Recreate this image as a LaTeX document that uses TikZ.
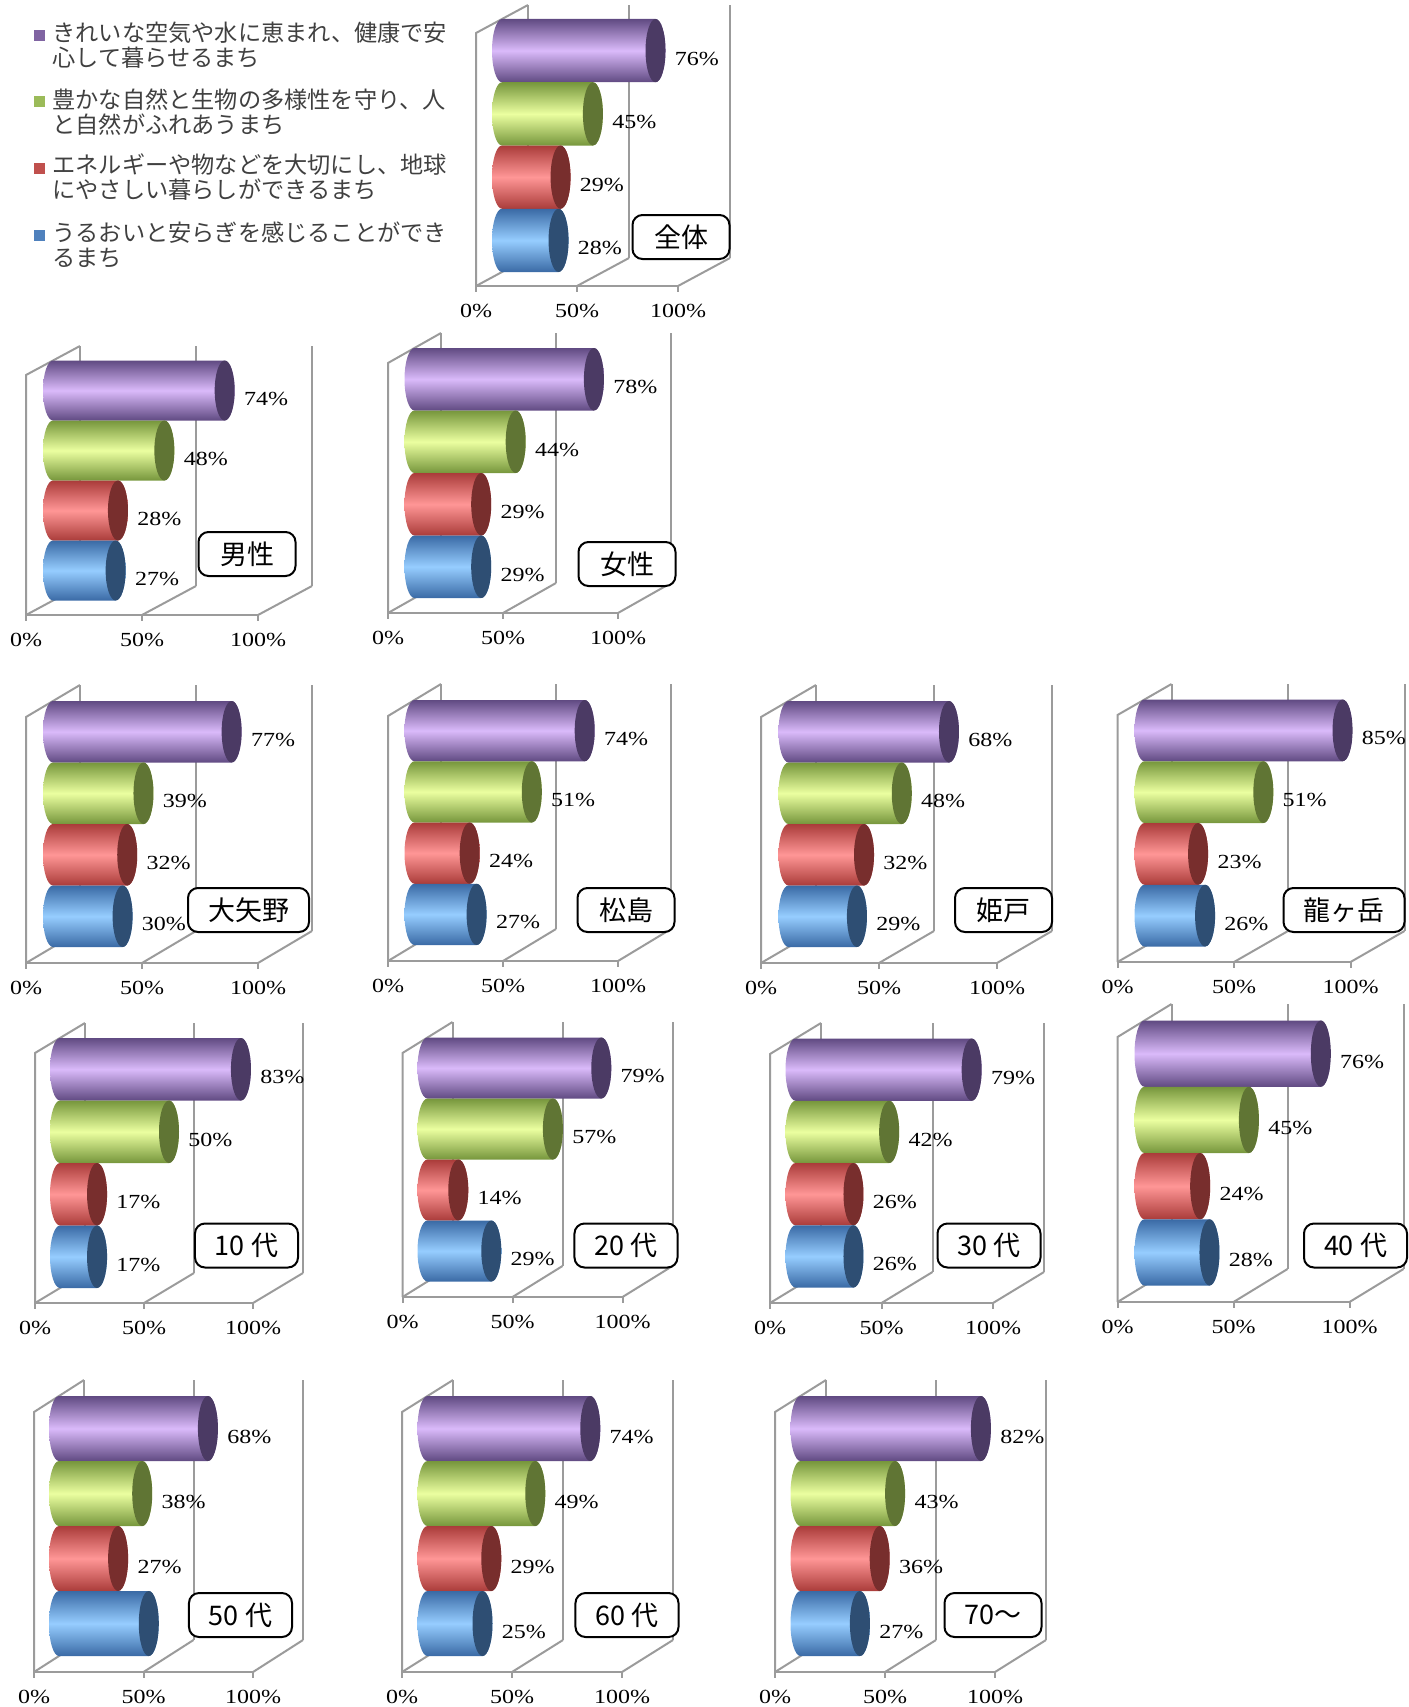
\documentclass[tikz,border=0pt]{standalone}
\usepackage{fontspec}
\newfontfamily\gothique{Noto Sans CJK JP}
\newfontfamily\chiffres[FakeStretch=1.2]{Liberation Serif}
\definecolor{grisgrille}{RGB}{155,155,155}
\definecolor{violetF}{RGB}{96,74,130}
\definecolor{violetC}{RGB}{218,186,250}
\definecolor{violetB}{RGB}{75,58,100}
\definecolor{vertF}{RGB}{118,150,60}
\definecolor{vertC}{RGB}{235,255,160}
\definecolor{vertB}{RGB}{96,117,52}
\definecolor{rougeF}{RGB}{170,60,58}
\definecolor{rougeC}{RGB}{255,150,150}
\definecolor{rougeB}{RGB}{120,46,45}
\definecolor{bleuF}{RGB}{58,106,165}
\definecolor{bleuC}{RGB}{150,205,255}
\definecolor{bleuB}{RGB}{46,78,115}
\definecolor{violetL}{RGB}{128,100,162}
\definecolor{vertL}{RGB}{155,187,89}
\definecolor{rougeL}{RGB}{192,80,77}
\definecolor{bleuL}{RGB}{79,129,189}

\begin{document}
\begin{tikzpicture}[x=0.5pt,y=-0.5pt]
    % Styles
    \tikzstyle{grille}=[draw=grisgrille,line width=1pt]
    \tikzstyle{barre1}=[top color=violetF,bottom color=violetF,middle color=violetC]
    \tikzstyle{barre2}=[top color=vertF,bottom color=vertF,middle color=vertC]
    \tikzstyle{barre3}=[top color=rougeF,bottom color=rougeF,middle color=rougeC]
    \tikzstyle{barre4}=[top color=bleuF,bottom color=bleuF,middle color=bleuC]
    \tikzstyle{chapeau1}=[fill=violetB]
    \tikzstyle{chapeau2}=[fill=vertB]
    \tikzstyle{chapeau3}=[fill=rougeB]
    \tikzstyle{chapeau4}=[fill=bleuB]
    \tikzstyle{pourcent}=[font=\chiffres\fontsize{10}{10}\selectfont,inner sep=0pt]
    \tikzstyle{cadre}=[draw=black,line width=1pt,rounded corners=5pt,fill=white,
      font=\gothique\fontsize{13.5}{13.5}\selectfont,minimum width=48.5pt,minimum height=22pt,inner xsep=10pt]
    \tikzstyle{legende}=[font=\gothique\fontsize{11.6}{12.5}\selectfont,text=black!75,align=left,anchor=west,inner sep=0pt]
    \tikzstyle{marque}=[minimum size=5.5pt,inner sep=0pt]
    % Dimensions
    \def\RayonChapeau{10}
    % Graphique : nom, origine (x,y), largeur 100%, hauteur, profondeur (x,y), valeurs, etiquettes visibles
    \def\Graphique#1#2#3#4#5#6#7#8#9{
      % fond
      \foreach \k in {0,0.5,1}
        \draw[grille] ({#2+\k*#4+#6},{#3+(#7)}) -- ++(0,-#5);
      % paroi gauche et sol
      \draw[grille] (#2,#3) -- ++(0,-#5) -- ++(#6,#7);
      \draw[grille] (#2,#3) -- ++(#4,0);
      \foreach \k in {0,0.5,1} {
        \draw[grille] ({#2+\k*#4},#3) -- ++(#6,#7);
        \draw[grille] ({#2+\k*#4},#3) -- ++(0,6);
      }
      \foreach \k/\t [count=\j] in {0/0,0.5/50,1/100}
        \node[pourcent] (#1-axe\j) at ({#2+\k*#4},{#3+25}) {\t\%};
      % barres
      \foreach \v [count=\i] in {#8} {
        \pgfmathsetmacro\xA{#2+0.5*(#6)}
        \pgfmathsetmacro\xB{\xA+\v/100*#4}
        \pgfmathsetmacro\yH{#3+0.5*(#7)-#5+(\i-1)*#5/4}
        \pgfmathsetmacro\yB{\yH+#5/4}
        \pgfmathsetmacro\rY{#5/8}
        \shade[barre\i] (\xA,\yH) -- (\xB,\yH)
          arc[start angle=-90,end angle=90,x radius=\RayonChapeau,y radius=\rY]
          -- (\xA,\yB)
          arc[start angle=90,end angle=270,x radius=\RayonChapeau,y radius=\rY] -- cycle;
        \fill[chapeau\i] (\xB,{\yH+\rY}) ellipse[x radius=\RayonChapeau,y radius=\rY];
        \ifnum\i>#9\else
          \node[pourcent,anchor=west] (#1-v\i) at ({\xB+\RayonChapeau+9},{\yH+\rY+8}) {\v\%};
        \fi
      }
    }
    \useasboundingbox (0,0) rectangle (1408,1707);
    % Legende
    \node[marque,fill=violetL] (marque1) at (39,36) {};
    \node[marque,fill=vertL] (marque2) at (39,102) {};
    \node[marque,fill=rougeL] (marque3) at (39,168.5) {};
    \node[marque,fill=bleuL] (marque4) at (39,235.5) {};
    \node[legende] (legende1) at (52,45.5) {きれいな空気や水に恵まれ、健康で安\\心して暮らせるまち};
    \node[legende] (legende2) at (52,112) {豊かな自然と生物の多様性を守り、人\\と自然がふれあうまち};
    \node[legende] (legende3) at (52,177.5) {エネルギーや物などを大切にし、地球\\にやさしい暮らしができるまち};
    \node[legende] (legende4) at (52,244.5) {うるおいと安らぎを感じることができ\\るまち};
    % Graphiques
    \Graphique{tot}{476}{286}{202}{253}{52}{-28}{76,45,29,28}{4}
    \Graphique{hom}{26}{615}{232}{240}{54}{-29}{74,48,28,27}{4}
    \Graphique{fem}{388}{613}{230}{250}{53}{-30}{78,44,29,29}{4}
    \Graphique{oya}{26}{963}{232}{246}{54}{-32}{77,39,32,30}{4}
    \Graphique{mat}{388}{961}{230}{245}{53}{-32}{74,51,24,27}{4}
    \Graphique{him}{761}{963}{236}{246}{55}{-32}{68,48,32,29}{4}
    \Graphique{ryu}{1117.5}{962}{233}{247}{54}{-31}{85,51,23,26}{4}
    \Graphique{a10}{35}{1303}{218}{250}{50}{-30}{83,50,17,17}{4}
    \Graphique{a20}{402.5}{1297}{220}{244}{50}{-31}{79,57,14,29}{4}
    \Graphique{a30}{770}{1303}{223}{249}{51}{-31}{79,42,26,26}{4}
    \Graphique{a40}{1117.5}{1302}{232}{265}{54}{-33}{76,45,24,28}{4}
    \Graphique{a50}{34}{1672}{219}{260}{50}{-32}{68,38,27,41}{3}
    \Graphique{a60}{402}{1672}{220}{260}{51}{-32}{74,49,29,25}{4}
    \Graphique{a70}{775}{1672}{220}{260}{51}{-32}{82,43,36,27}{4}
    % Cadres
    \node[cadre] (tot-titre) at (681,237) {全体};
    \node[cadre] (hom-titre) at (247,554) {男性};
    \node[cadre] (fem-titre) at (627,564) {女性};
    \node[cadre] (oya-titre) at (248.5,910) {大矢野};
    \node[cadre] (mat-titre) at (626,910) {松島};
    \node[cadre] (him-titre) at (1003.5,910) {姫戸};
    \node[cadre] (ryu-titre) at (1344,910) {龍ヶ岳};
    \node[cadre] (a10-titre) at (246.5,1245.5) {10 代};
    \node[cadre] (a20-titre) at (626,1245.5) {20 代};
    \node[cadre] (a30-titre) at (989,1245.5) {30 代};
    \node[cadre] (a40-titre) at (1355.5,1245.5) {40 代};
    \node[cadre] (a50-titre) at (240.5,1615) {50 代};
    \node[cadre] (a60-titre) at (627,1615) {60 代};
    \node[cadre] (a70-titre) at (993,1615) {70～};
\end{tikzpicture}
\end{document}
